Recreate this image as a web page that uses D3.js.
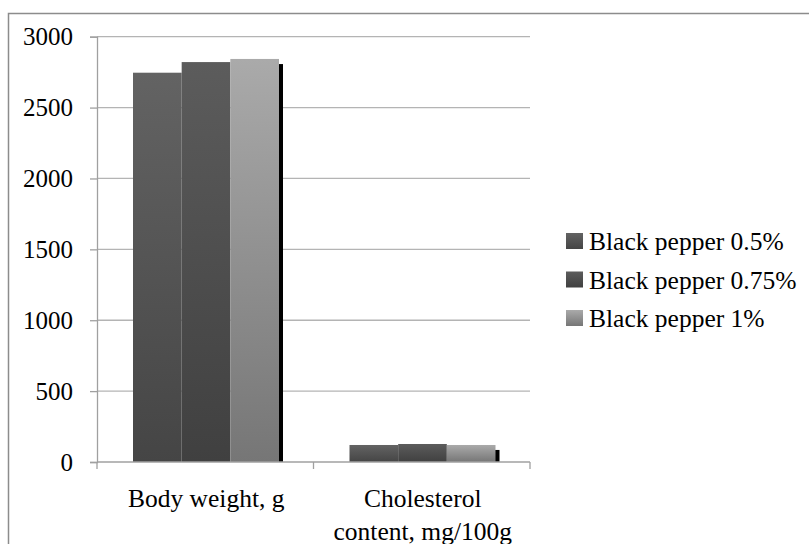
<!DOCTYPE html>
<html>
<head>
<meta charset="utf-8">
<script src="https://cdn.jsdelivr.net/npm/d3@7"></script>
<style>
  html, body { margin: 0; padding: 0; background: #fff; }
  svg { display: block; }
  svg text { font-family: "Liberation Serif", "Times New Roman", Times, "DejaVu Serif", serif; fill: #000; }
</style>
</head>
<body>
<svg id="chart" width="809" height="544"></svg>
<script>
// ---- data ----
const categories = ["Body weight, g", "Cholesterol content, mg/100g"];
const categoryLines = [["Body weight, g"], ["Cholesterol", "content, mg/100g"]];
const seriesNames = ["Black pepper 0.5%", "Black pepper 0.75%", "Black pepper 1%"];
const pepper05 = [2746, 120];
const pepper075 = [2821, 127];
const pepper1 = [2843, 120];
const hiddenSeries = [2807, 85];
const yTicks = [0, 500, 1000, 1500, 2000, 2500, 3000];

const seriesValues = [pepper05, pepper075, pepper1];
const seriesGrad = [["#636363", "#454545"], ["#5c5c5c", "#404040"], ["#aaaaaa", "#767676"]];
const FONT = "'Liberation Serif', 'Times New Roman', Times, 'DejaVu Serif', serif";

// ---- layout ----
const svg = d3.select("#chart");
const plot = { left: 97, right: 530, top: 36.7, bottom: 462 };

svg.append("rect")
  .attr("x", 8.5).attr("y", 13.5).attr("width", 802).attr("height", 545)
  .attr("fill", "none").attr("stroke", "#8c8c8c").attr("stroke-width", 1.5);

const defs = svg.append("defs");
seriesGrad.forEach((g, i) => {
  const lg = defs.append("linearGradient").attr("id", "grad" + i)
    .attr("x1", 0).attr("y1", 0).attr("x2", 0).attr("y2", 1);
  lg.append("stop").attr("offset", "0%").attr("stop-color", g[0]);
  lg.append("stop").attr("offset", "100%").attr("stop-color", g[1]);
});

const x0 = d3.scaleBand().domain(categories).range([plot.left, plot.right]).padding(0);
const x1 = d3.scaleBand().domain(seriesNames).range([36, 182]).padding(0);
const y = d3.scaleLinear().domain([0, 3000]).range([plot.bottom, plot.top]);

svg.append("g").selectAll("line").data(yTicks.filter(t => t > 0)).join("line")
  .attr("x1", plot.left).attr("x2", plot.right)
  .attr("y1", d => y(d)).attr("y2", d => y(d))
  .attr("stroke", "#b4b4b4").attr("stroke-width", 1.3);

const yAxis = svg.append("g").attr("transform", `translate(${plot.left},0)`)
  .call(d3.axisLeft(y).tickValues(yTicks).tickSize(7).tickPadding(17).tickFormat(d3.format("d")));
yAxis.attr("font-family", FONT).attr("font-size", 25);
yAxis.select(".domain").attr("stroke", "#a0a0a0").attr("stroke-width", 1.3);
yAxis.selectAll(".tick line").attr("stroke", "#a0a0a0").attr("stroke-width", 1.3);
yAxis.selectAll(".tick text").attr("fill", "#000");

const groups = svg.append("g").selectAll("g").data(categories).join("g")
  .attr("transform", d => `translate(${x0(d)},0)`);

groups.append("rect")
  .attr("x", x1(seriesNames[2]) + 4)
  .attr("width", x1.bandwidth())
  .attr("y", (d, i) => y(hiddenSeries[i]))
  .attr("height", (d, i) => y(0) - y(hiddenSeries[i]))
  .attr("fill", "#000");

seriesNames.forEach((s, si) => {
  groups.append("rect")
    .attr("x", x1(s))
    .attr("width", x1.bandwidth())
    .attr("y", (d, i) => y(seriesValues[si][i]))
    .attr("height", (d, i) => y(0) - y(seriesValues[si][i]))
    .attr("fill", `url(#grad${si})`);
});

const xAxis = svg.append("g").attr("transform", `translate(0,${plot.bottom})`);
xAxis.append("line").attr("x1", plot.left).attr("x2", plot.right)
  .attr("stroke", "#a0a0a0").attr("stroke-width", 1.3);
[plot.left, x0(categories[1]), plot.right].forEach(xx => {
  xAxis.append("line").attr("x1", xx).attr("x2", xx).attr("y1", 0).attr("y2", 7)
    .attr("stroke", "#a0a0a0").attr("stroke-width", 1.3);
});
categories.forEach((c, i) => {
  const cx = x0(c) + x0.bandwidth() / 2 + 1;
  const t = svg.append("text")
    .attr("x", cx).attr("y", 507)
    .attr("text-anchor", "middle")
    .attr("font-family", FONT)
    .attr("font-size", "25.5px");
  categoryLines[i].forEach((ln, li) => {
    t.append("tspan").attr("x", cx).attr("dy", li === 0 ? 0 : 33).text(ln);
  });
});

const legend = svg.append("g");
seriesNames.forEach((s, i) => {
  const cy = 241 + i * 38.5;
  legend.append("rect").attr("x", 566).attr("y", cy - 8).attr("width", 17).attr("height", 16)
    .attr("fill", `url(#grad${i})`);
  legend.append("text").attr("x", 589).attr("y", cy + 9)
    .attr("font-family", FONT)
    .attr("font-size", "25.5px").text(s);
});
</script>
</body>
</html>
